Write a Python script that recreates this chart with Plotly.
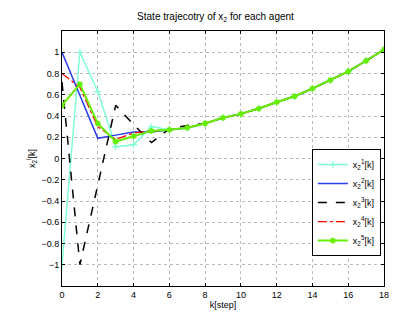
import plotly.graph_objects as go

k = list(range(19))
tail = [0.33, 0.383, 0.42, 0.47, 0.53, 0.586, 0.658, 0.737, 0.82, 0.92, 1.024]
x1 = [-1.0, 1.0, 0.63, 0.11, 0.13, 0.30, 0.27, 0.285] + tail
x2 = [1.0, 0.6, 0.19, 0.22, 0.25, 0.25, 0.27, 0.29] + tail
x3 = [0.72, -1.0, -0.25, 0.50, 0.32, 0.15, 0.28, 0.31] + tail
x4 = [0.8, 0.67, 0.30, 0.18, 0.24, 0.26, 0.27, 0.29] + tail
x5 = [0.5, 0.7, 0.33, 0.16, 0.21, 0.26, 0.27, 0.29] + tail

names = ["x<sub>2</sub><sup>1</sup>[k]", "x<sub>2</sub><sup>2</sup>[k]", "x<sub>2</sub><sup>3</sup>[k]",
         "x<sub>2</sub><sup>4</sup>[k]", "x<sub>2</sub><sup>5</sup>[k]"]
xticks = list(range(0, 19, 2))
yticks = [-1, -0.8, -0.6, -0.4, -0.2, 0, 0.2, 0.4, 0.6, 0.8, 1]
yticklabels = ["−1", "−0.8", "−0.6", "−0.4", "−0.2", "0", "0.2", "0.4", "0.6", "0.8", "1"]

fig = go.Figure()
fig.add_trace(go.Scatter(x=k, y=x1, name=names[0], mode="lines+markers",
                         line=dict(color="#7fffd4", width=1.5),
                         marker=dict(symbol="cross-thin-open", size=5, line=dict(color="#7fffd4", width=1.2))))
fig.add_trace(go.Scatter(x=k, y=x2, name=names[1], mode="lines",
                         line=dict(color="#2a3cf0", width=1.5)))
fig.add_trace(go.Scatter(x=k, y=x3, name=names[2], mode="lines",
                         line=dict(color="black", width=1.5, dash="dash")))
fig.add_trace(go.Scatter(x=k, y=x4, name=names[3], mode="lines",
                         line=dict(color="red", width=1.3, dash="dashdot")))
fig.add_trace(go.Scatter(x=k, y=x5, name=names[4], mode="lines+markers",
                         line=dict(color="#66ee00", width=2),
                         marker=dict(symbol="asterisk-open", size=5, line=dict(color="#66ee00", width=1.5))))

font = dict(family="Liberation Sans, Arial, sans-serif", size=9, color="black")
fig.update_layout(
    width=415, height=313,
    margin=dict(l=54, r=39, t=23, b=35),
    paper_bgcolor="white", plot_bgcolor="white",
    font=font,
    title=dict(text="State trajecotry of x<sub>2</sub> for each agent", x=0.5, xanchor="center",
               y=0.985, yanchor="top", font=dict(size=10)),
    showlegend=True,
    legend=dict(x=0.776, y=0.537, xanchor="left", yanchor="top",
                bgcolor="white", bordercolor="black", borderwidth=1,
                font=dict(size=9), tracegroupgap=0, itemwidth=30),
)
fig.update_xaxes(range=[0, 18], tickvals=xticks, showgrid=True, gridcolor="#bbbbbb", griddash="dot",
                 gridwidth=1, zeroline=False, showline=True, linecolor="black", linewidth=1, mirror="ticks",
                 ticks="inside", ticklen=3, tickcolor="black",
                 title=dict(text="k[step]", standoff=2, font=dict(size=9)))
fig.update_yaxes(range=[-1.2, 1.2], tickvals=yticks, ticktext=yticklabels, showgrid=True, gridcolor="#bbbbbb",
                 griddash="dot", gridwidth=1, zeroline=False, showline=True, linecolor="black", linewidth=1,
                 mirror="ticks", ticks="inside", ticklen=3, tickcolor="black",
                 title=dict(text="x<sub>2</sub><sup>i</sup>[k]", standoff=4, font=dict(size=9)))

fig.write_html("out.html")
